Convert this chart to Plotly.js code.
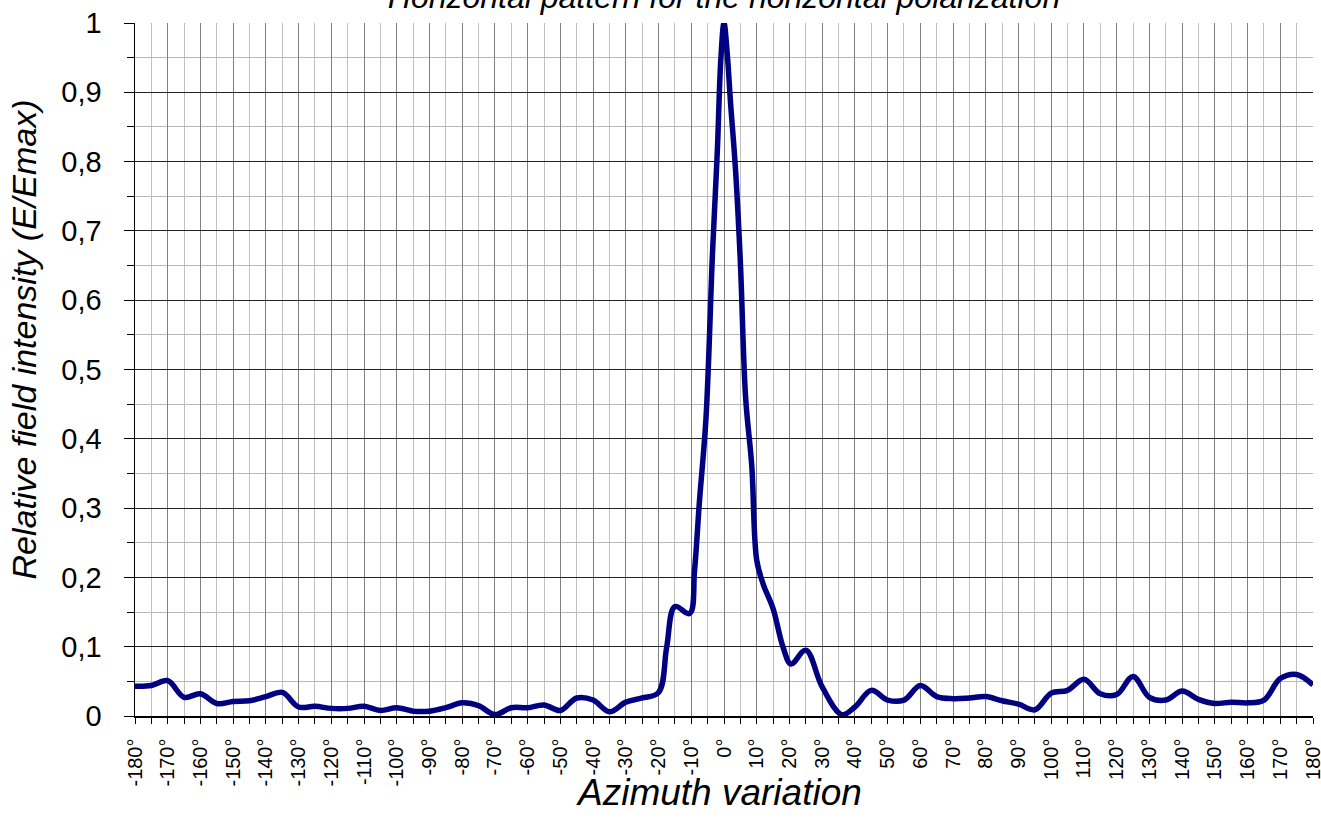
<!DOCTYPE html>
<html>
<head>
<meta charset="utf-8">
<script src="https://cdn.plot.ly/plotly-3.0.1.min.js"></script>
<style>html,body{margin:0;padding:0;background:#fff;}#chart{width:1321px;height:818px;}</style>
</head>
<body>
<div id="chart"></div>
<script>
// Azimuth angle (degrees)
const azimuth = [-180,-175,-170,-165,-160,-155,-150,-145,-140,-135,-130,-125,-120,-115,-110,-105,-100,-95,-90,-85,-80,-75,-70,-65,-60,-55,-50,-45,-40,-35,-30,-25,-20,-17.5,-15,-10.5,-9,-7.5,-5.5,-3.5,-2,-1,0,1,2,3.5,5,6.6,8.5,10,12,15,18,20.5,25,30,36,40,45,50,55,60,65,70,75,80,85,90,95,100,105,110,115,120,125,130,135,140,145,150,155,160,165,170,175,180];
// Relative field intensity E/Emax
const intensity = [0.043,0.044,0.051,0.027,0.032,0.018,0.021,0.022,0.028,0.034,0.013,0.014,0.011,0.011,0.014,0.008,0.012,0.007,0.007,0.012,0.019,0.015,0.002,0.012,0.012,0.016,0.008,0.026,0.023,0.006,0.020,0.026,0.034,0.100,0.158,0.148,0.210,0.310,0.430,0.670,0.820,0.945,1.000,0.955,0.885,0.790,0.655,0.460,0.360,0.225,0.190,0.155,0.100,0.075,0.095,0.042,0.002,0.013,0.037,0.023,0.023,0.044,0.028,0.025,0.026,0.028,0.022,0.017,0.009,0.033,0.037,0.053,0.032,0.031,0.057,0.027,0.023,0.036,0.024,0.018,0.020,0.019,0.023,0.054,0.060,0.045];

const xTickVals = [-180,-170,-160,-150,-140,-130,-120,-110,-100,-90,-80,-70,-60,-50,-40,-30,-20,-10,0,10,20,30,40,50,60,70,80,90,100,110,120,130,140,150,160,170,180];
const xTickText = ["-180°","-170°","-160°","-150°","-140°","-130°","-120°","-110°","-100°","-90°","-80°","-70°","-60°","-50°","-40°","-30°","-20°","-10°","0°","10°","20°","30°","40°","50°","60°","70°","80°","90°","100°","110°","120°","130°","140°","150°","160°","170°","180°"];
const yTickVals = [0,0.1,0.2,0.3,0.4,0.5,0.6,0.7,0.8,0.9,1];
const yTickText = ["0","0,1","0,2","0,3","0,4","0,5","0,6","0,7","0,8","0,9","1"];

const chartTitle = "Horizontal pattern for the horizontal polarization";
const xTitle = "Azimuth variation";
const yTitle = "Relative field intensity (E/Emax)";

const FONT = "Arial, 'Liberation Sans', sans-serif";

const trace = {
  x: azimuth,
  y: intensity,
  type: 'scatter',
  mode: 'lines',
  line: {color: '#000080', width: 5.5, shape: 'spline', smoothing: 1},
  hoverinfo: 'skip'
};

const layout = {
  width: 1321, height: 818,
  margin: {l: 135, r: 8, t: 23, b: 102},
  paper_bgcolor: '#ffffff', plot_bgcolor: '#ffffff',
  showlegend: false,
  font: {family: FONT, color: '#000000'},
  title: {
    text: '<i>' + chartTitle + '</i>',
    font: {family: FONT, size: 32, color: '#000000'},
    xref: 'paper', x: 0.5, xanchor: 'center',
    yref: 'container', y: 1 - 8/818, yanchor: 'bottom'
  },
  xaxis: {
    range: [-180, 180], fixedrange: true,
    tickmode: 'array', tickvals: xTickVals, ticktext: xTickText,
    tickangle: -90, tickfont: {family: FONT, size: 20, color: '#000000'},
    ticks: 'outside', ticklen: 6, tickcolor: '#000000', tickwidth: 1,
    ticklabelstandoff: 7, ticklabeloverflow: 'allow',
    showgrid: true, gridcolor: '#808080', gridwidth: 1,
    minor: {dtick: 5, tick0: 0, ticks: 'outside', ticklen: 6, tickcolor: '#000000', showgrid: true, gridcolor: '#c0c0c0', gridwidth: 1},
    showline: true, linecolor: '#000000', linewidth: 1.5,
    zeroline: false
  },
  yaxis: {
    range: [0, 1], fixedrange: true,
    tickmode: 'array', tickvals: yTickVals, ticktext: yTickText,
    tickfont: {family: FONT, size: 29, color: '#000000'},
    ticks: 'outside', ticklen: 10, tickcolor: '#000000', tickwidth: 1,
    ticklabelstandoff: 16,
    showgrid: true, gridcolor: '#222222', gridwidth: 1,
    minor: {dtick: 0.05, tick0: 0, ticks: 'outside', ticklen: 7, tickcolor: '#000000', showgrid: true, gridcolor: '#b8b8b8', gridwidth: 1},
    showline: true, linecolor: '#000000', linewidth: 1.5,
    zeroline: false
  },
  annotations: [
    {
      text: '<i>' + xTitle + '</i>', showarrow: false,
      xref: 'paper', yref: 'paper', x: (719 - 135) / 1178, y: (716 - 792) / 692,
      xanchor: 'center', yanchor: 'middle',
      font: {family: FONT, size: 37, color: '#000000'}
    },
    {
      text: '<i>' + yTitle + '</i>', showarrow: false, textangle: -90,
      xref: 'paper', yref: 'paper', x: (24 - 135) / 1178, y: (716 - 340) / 692,
      xanchor: 'center', yanchor: 'middle',
      font: {family: FONT, size: 34, color: '#000000'}
    }
  ]
};

Plotly.newPlot('chart', [trace], layout, {displayModeBar: false, staticPlot: true});
</script>
</body>
</html>
